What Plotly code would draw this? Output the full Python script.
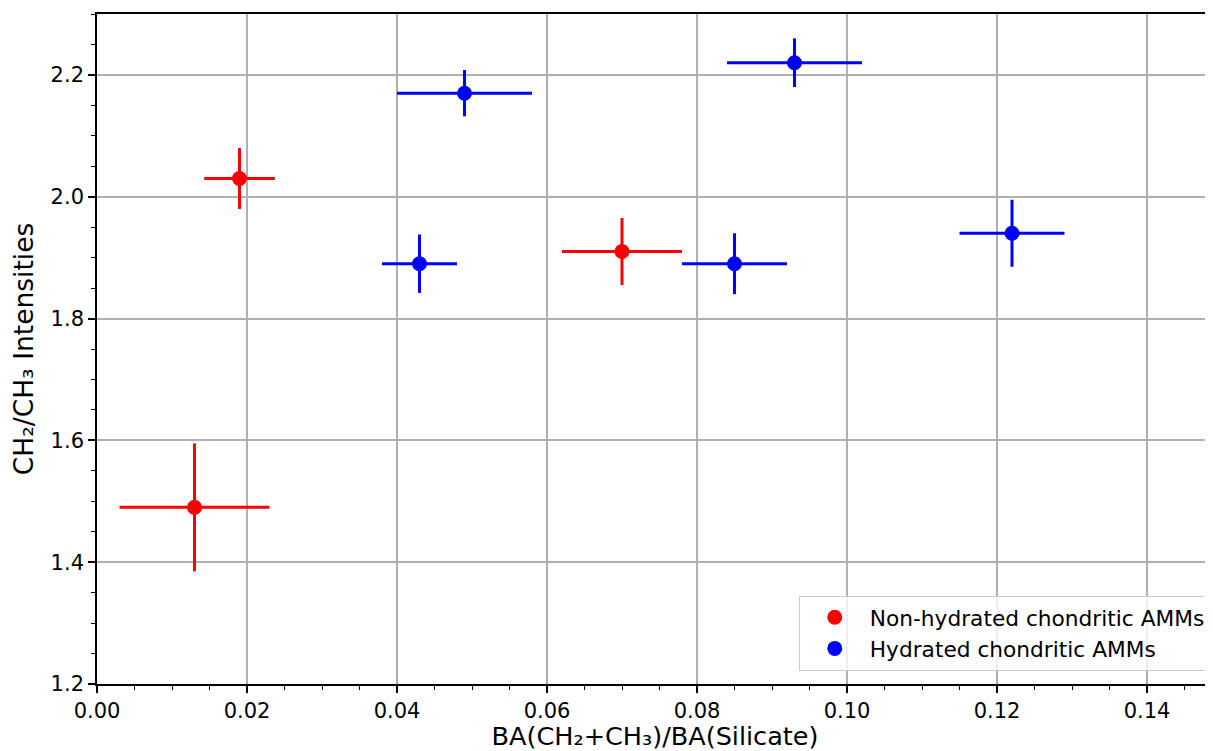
import plotly.graph_objects as go

# Non-hydrated chondritic AMMs
red_x = [0.013, 0.019, 0.070]
red_y = [1.49, 2.03, 1.91]
red_xerr = [0.010, 0.0047, 0.008]
red_yerr = [0.105, 0.05, 0.055]

# Hydrated chondritic AMMs
blue_x = [0.043, 0.049, 0.085, 0.093, 0.122]
blue_y = [1.89, 2.17, 1.89, 2.22, 1.94]
blue_xerr = [0.005, 0.009, 0.007, 0.009, 0.007]
blue_yerr = [0.048, 0.038, 0.05, 0.04, 0.055]

series_names = ["Non-hydrated chondritic AMMs", "Hydrated chondritic AMMs"]

x_ticks = [0.00, 0.02, 0.04, 0.06, 0.08, 0.10, 0.12, 0.14]
y_ticks = [1.2, 1.4, 1.6, 1.8, 2.0, 2.2]

FONT = "DejaVu Sans"

fig = go.Figure()

for xs, ys, xe, ye, col, name in [
    (red_x, red_y, red_xerr, red_yerr, "#ff0000", series_names[0]),
    (blue_x, blue_y, blue_xerr, blue_yerr, "#0000ff", series_names[1]),
]:
    fig.add_trace(go.Scatter(
        x=xs, y=ys, mode="markers",
        marker=dict(color=col, size=15),
        error_x=dict(type="data", array=xe, color=col, thickness=3, width=0),
        error_y=dict(type="data", array=ye, color=col, thickness=3, width=0),
        showlegend=False, cliponaxis=False,
    ))
    fig.add_trace(go.Scatter(
        x=[None], y=[None], mode="markers",
        marker=dict(color=col, size=15), name=name, showlegend=True,
    ))

fig.update_layout(
    width=1205, height=743,
    margin=dict(l=89, r=0, t=6, b=67),
    paper_bgcolor="white", plot_bgcolor="white",
    font=dict(family=FONT, size=21, color="black"),
    legend=dict(
        x=0.998, xanchor="right", y=0.02, yanchor="bottom",
        bgcolor="rgba(255,255,255,0.8)", bordercolor="#cccccc", borderwidth=1,
        font=dict(family=FONT, size=21.7), itemwidth=60,
        tracegroupgap=0,
    ),
)

fig.update_xaxes(
    range=[0, 0.1488], tickvals=x_ticks, tickformat=".2f",
    showgrid=True, gridcolor="#b0b0b0", gridwidth=1.5,
    showline=True, linecolor="black", linewidth=1.6, mirror=True,
    ticks="outside", ticklen=7, tickwidth=1.6, tickcolor="black",
    minor=dict(dtick=0.005, tick0=0, ticks="outside", ticklen=4, tickwidth=1.2, tickcolor="black", showgrid=False),
    zeroline=False, automargin=False,
    title=dict(text="BA(CH₂+CH₃)/BA(Silicate)", standoff=13, font=dict(size=25.5)),
)
fig.update_yaxes(
    range=[1.2, 2.3], tickvals=y_ticks, tickformat=".1f",
    showgrid=True, gridcolor="#b0b0b0", gridwidth=1.5,
    showline=True, linecolor="black", linewidth=1.6, mirror=False,
    ticks="outside", ticklen=7, tickwidth=1.6, tickcolor="black",
    minor=dict(dtick=0.05, tick0=1.2, ticks="outside", ticklen=4, tickwidth=1.2, tickcolor="black", showgrid=False),
    zeroline=False, automargin=False,
    title=dict(text="CH₂/CH₃ Intensities", standoff=9, font=dict(size=26.5)),
)

fig.write_html("out.html")
